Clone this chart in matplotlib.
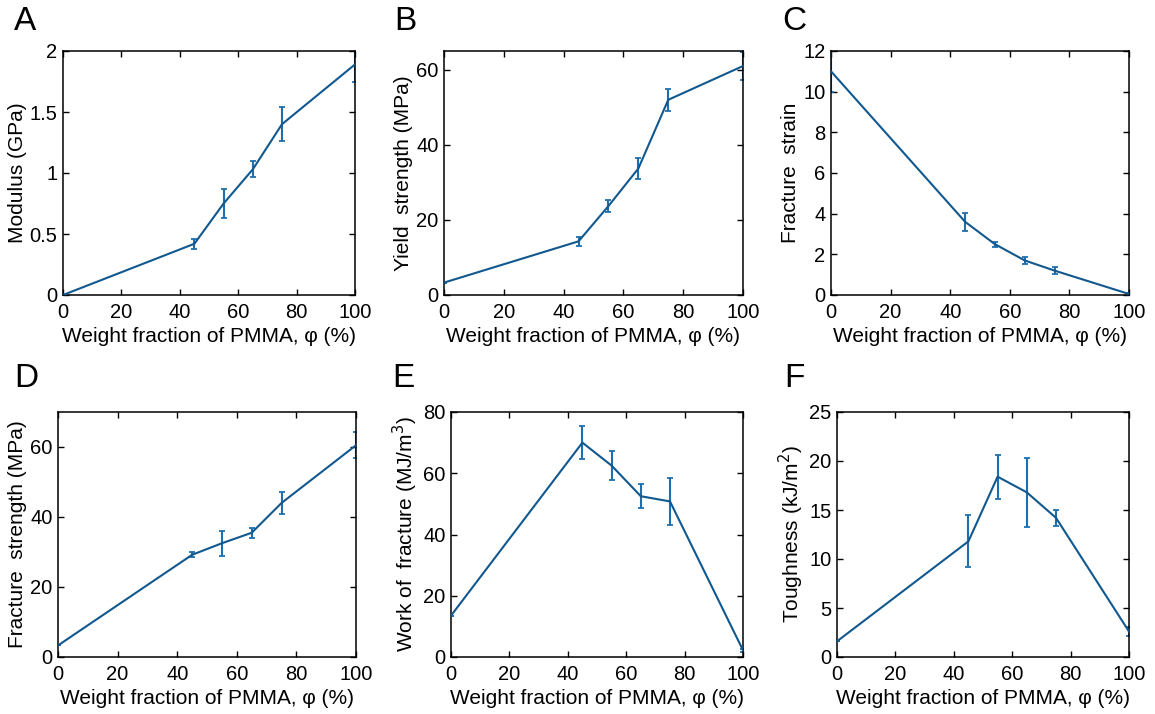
import numpy as np
import matplotlib
matplotlib.use("Agg")
import matplotlib.pyplot as plt

plt.rcParams['font.family'] = ['Liberation Sans', 'DejaVu Sans']

# PMMA weight fraction (%)
phi = [0, 45, 55, 65, 75, 100]

modulus = [0, 0.42, 0.75, 1.03, 1.40, 1.89]
modulus_err = [0, 0.04, 0.12, 0.065, 0.14, 0.14]

yield_strength = [3.3, 14.3, 23.7, 33.7, 52.0, 61.0]
yield_err = [0, 1.2, 1.7, 2.9, 3.0, 3.8]

fracture_strain = [11.0, 3.6, 2.5, 1.7, 1.2, 0.05]
strain_err = [1.0, 0.45, 0.13, 0.17, 0.17, 0.05]

fracture_strength = [3.3, 29.2, 32.5, 35.5, 44.0, 60.5]
fstrength_err = [0, 0.7, 3.5, 1.5, 3.2, 3.7]

work_fracture = [13.5, 70.0, 62.5, 52.5, 50.8, 2.2]
work_err = [0, 5.5, 4.8, 4.0, 7.8, 0.5]

toughness = [1.6, 11.8, 18.4, 16.8, 14.2, 2.6]
tough_err = [0, 2.65, 2.25, 3.5, 0.8, 0.5]

panels = [
    ("A", modulus, modulus_err, "Modulus (GPa)", (0, 2), [0, 0.5, 1, 1.5, 2]),
    ("B", yield_strength, yield_err, "Yield  strength (MPa)", (0, 65), [0, 20, 40, 60]),
    ("C", fracture_strain, strain_err, "Fracture  strain", (0, 12), [0, 2, 4, 6, 8, 10, 12]),
    ("D", fracture_strength, fstrength_err, "Fracture  strength (MPa)", (0, 70), [0, 20, 40, 60]),
    ("E", work_fracture, work_err, "Work of  fracture (MJ/m$^3$)", (0, 80), [0, 20, 40, 60, 80]),
    ("F", toughness, tough_err, "Toughness (kJ/m$^2$)", (0, 25), [0, 5, 10, 15, 20, 25]),
]

# axes boxes in pixels: left, right, top, bottom
boxes = [
    (63, 355, 51, 295), (444, 743, 51, 295), (831, 1129, 51, 295),
    (58, 356, 412, 657), (451, 743, 412, 657), (837, 1129, 412, 657),
]
# panel letter top-left corners in pixels
letter_pos = [(14, 6), (394, 6), (782, 6), (14, 363), (392, 363), (784, 363)]

W, H = 1155, 714
fig = plt.figure(figsize=(W / 100, H / 100), dpi=100)

line_c = '#11588f'
err_c = '#1f6fae'

for (letter, y, e, ylab, ylim, yticks), (l, r, t, b), (lx, ly) in zip(panels, boxes, letter_pos):
    ax = fig.add_axes([l / W, 1 - b / H, (r - l) / W, (b - t) / H])
    ax.plot(phi, y, color=line_c, lw=1.5, zorder=3)
    ax.errorbar(phi, y, yerr=e, fmt='none', ecolor=err_c, elinewidth=1.5,
                capsize=2.5, capthick=1.3, zorder=2)
    ax.set_xlim(0, 100)
    ax.set_ylim(*ylim)
    ax.set_xticks([0, 20, 40, 60, 80, 100])
    ax.set_yticks(yticks)
    ax.set_yticklabels([('%g' % v) for v in yticks])
    ax.tick_params(direction='in', top=True, right=True, labelsize=14.5,
                   length=4, width=1)
    ax.tick_params(axis='x', pad=6)
    ax.tick_params(axis='y', pad=4)
    for s in ax.spines.values():
        s.set_linewidth(1.1)
    ax.set_xlabel("Weight fraction of PMMA, \u03c6 (%)", fontsize=15, labelpad=3)
    ax.set_ylabel(ylab, fontsize=15, labelpad=2)
    fig.text(lx / W, 1 - ly / H, letter, fontsize=24, va='top', ha='left')

fig.savefig("out.png", dpi=100)
